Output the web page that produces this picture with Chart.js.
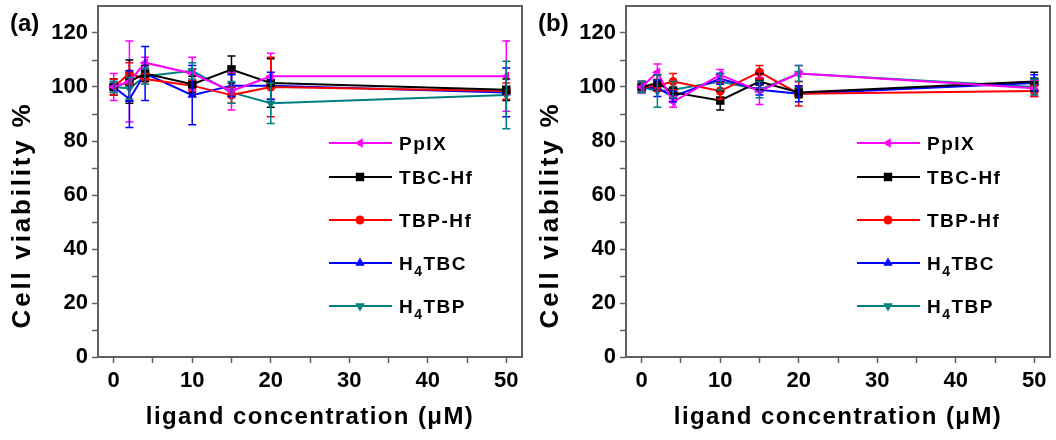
<!DOCTYPE html>
<html>
<head>
<meta charset="utf-8">
<script src="https://cdn.jsdelivr.net/npm/chart.js@4.4.1/dist/chart.umd.min.js"></script>
<style>
  body { margin: 0; background: #fff; width: 1056px; height: 440px; overflow: hidden; display: flex; }
  .panel { position: relative; width: 528px; height: 440px; }
</style>
</head>
<body>
<div class="panel"><canvas id="chartA"></canvas></div>
<div class="panel"><canvas id="chartB"></canvas></div>
<script>
// x values (ligand concentration, uM) shared by every series
const concentrations = [0, 2, 4, 10, 15, 20, 50];
const seriesNames = ['PpIX', 'TBC-Hf', 'TBP-Hf', 'H₄TBC', 'H₄TBP'];
const xTickValues = [0, 5, 10, 15, 20, 25, 30, 35, 40, 45, 50];
const yTickValues = [0, 10, 20, 30, 40, 50, 60, 70, 80, 90, 100, 110, 120];

// panel (a)
const ppixA = [100, 102, 109, 105, 98.5, 104, 104];
const ppixErrA = [5, 15, 2, 6, 7, 8.5, 13];
const tbcHfA = [100, 102, 105, 101, 106.5, 101.5, 99];
const tbcHfErrA = [3, 8, 3, 3, 5, 9, 4];
const tbpHfA = [100, 105, 103, 100.5, 97, 100, 98.5];
const tbpHfErrA = [3, 4, 2, 2, 3, 11, 3];
const h4tbcA = [100, 95.5, 105, 97, 100.5, 100.5, 98];
const h4tbcErrA = [2, 10.5, 10, 11, 4, 5, 9];
const h4tbpA = [100, 99.5, 104, 106, 98, 94, 97];
const h4tbpErrA = [2, 4, 3, 3, 4, 7.5, 12.5];

// panel (b)
const ppixB = [100, 105.5, 94.5, 104.5, 98.5, 105, 99.5];
const ppixErrB = [2, 3, 2, 2, 5, 3, 3];
const tbcHfB = [100, 101.5, 98, 95, 102, 98, 102];
const tbcHfErrB = [2, 3, 2, 3.5, 3, 2, 3.5];
const tbpHfB = [100, 100.5, 102, 98.5, 105.5, 97.5, 98.5];
const tbpHfErrB = [2, 2, 3, 3, 2.5, 4.5, 2];
const h4tbcB = [100, 99.5, 96.5, 103, 99, 97.5, 101.5];
const h4tbcErrB = [2, 3, 2, 2, 2, 3, 3];
const h4tbpB = [100, 98.5, 99, 102, 99, 105, 100];
const h4tbpErrB = [2, 6, 3, 3, 3, 3, 3];

// look of each series, same order as seriesNames
const styles = [
  { color: '#ff00ff', point: 'triangle', rotation: -90, radius: 5.5 },
  { color: '#000000', point: 'rect', rotation: 0, radius: 6 },
  { color: '#ff0000', point: 'circle', rotation: 0, radius: 4.5 },
  { color: '#0000ff', point: 'triangle', rotation: 0, radius: 5.5 },
  { color: '#008080', point: 'triangle', rotation: 180, radius: 5.5 }
];
const axisColor = '#606060';
const fontFamily = '"Liberation Sans", Arial, sans-serif';
const legendRowY = [143, 177, 220, 263, 306];

function drawMarker(ctx, st, x, y) {
  const r = st.radius;
  ctx.beginPath();
  if (st.point === 'circle') {
    ctx.arc(x, y, r, 0, Math.PI * 2);
  } else if (st.point === 'rect') {
    const s = r * Math.SQRT1_2;
    ctx.rect(x - s, y - s, 2 * s, 2 * s);
  } else {
    const a0 = (st.rotation - 90) * Math.PI / 180;
    for (let k = 0; k < 3; k++) {
      const a = a0 + k * 2 * Math.PI / 3;
      const px = x + r * Math.cos(a), py = y + r * Math.sin(a);
      k === 0 ? ctx.moveTo(px, py) : ctx.lineTo(px, py);
    }
    ctx.closePath();
  }
  ctx.fill();
}

// draws text, turning unicode subscript digits into small lowered digits
function drawLabel(ctx, text, x, y, size) {
  let cx = x;
  for (const ch of text) {
    const code = ch.charCodeAt(0);
    if (code >= 0x2080 && code <= 0x2089) {
      ctx.font = 'bold ' + Math.round(size * 0.72) + 'px ' + fontFamily;
      const d = String(code - 0x2080);
      ctx.fillText(d, cx, y + size * 0.32);
      cx += ctx.measureText(d).width;
    } else {
      ctx.font = 'bold ' + size + 'px ' + fontFamily;
      ctx.fillText(ch, cx, y);
      cx += ctx.measureText(ch).width;
    }
  }
}

const decorations = {
  id: 'decorations',
  afterDatasetsDraw(chart, args, opts) {
    const ctx = chart.ctx;
    const xs = chart.scales.x, ys = chart.scales.y;
    ctx.save();
    // error bars
    chart.data.datasets.forEach((ds, di) => {
      ctx.strokeStyle = ds.borderColor;
      ctx.lineWidth = 1.5;
      ds.errors.forEach((e, i) => {
        const px = xs.getPixelForValue(concentrations[i]);
        const top = ys.getPixelForValue(ds.data[i].y + e);
        const bot = ys.getPixelForValue(ds.data[i].y - e);
        ctx.beginPath();
        ctx.moveTo(px, top); ctx.lineTo(px, bot);
        ctx.moveTo(px - 4, top); ctx.lineTo(px + 4, top);
        ctx.moveTo(px - 4, bot); ctx.lineTo(px + 4, bot);
        ctx.stroke();
      });
    });
    ctx.restore();
  },
  afterDraw(chart, args, opts) {
    const ctx = chart.ctx;
    const area = chart.chartArea;
    ctx.save();
    // frame
    ctx.strokeStyle = axisColor;
    ctx.lineWidth = 2;
    ctx.strokeRect(area.left, area.top, area.right - area.left, area.bottom - area.top);

    // legend
    const lx = area.left + 231;
    seriesNames.forEach((name, i) => {
      const st = styles[i];
      const y = legendRowY[i];
      ctx.strokeStyle = st.color;
      ctx.fillStyle = st.color;
      ctx.lineWidth = 2;
      ctx.beginPath();
      ctx.moveTo(lx, y); ctx.lineTo(lx + 63, y);
      ctx.stroke();
      drawMarker(ctx, st, lx + 31, y);
      ctx.fillStyle = '#000';
      ctx.textBaseline = 'alphabetic';
      ctx.textAlign = 'left';
      ctx.letterSpacing = '1.5px';
      drawLabel(ctx, name, lx + 70, y + 7, 19);
    });

    // panel label
    ctx.letterSpacing = '0px';
    ctx.fillStyle = '#000';
    ctx.font = 'bold 24px ' + fontFamily;
    ctx.textAlign = 'left';
    ctx.fillText(opts.panel, 10, 31);

    // axis titles
    ctx.textAlign = 'center';
    ctx.textBaseline = 'middle';
    ctx.letterSpacing = '1.4px';
    ctx.fillText('ligand concentration (μM)', (area.left + area.right) / 2, 417);
    ctx.save();
    ctx.translate(23, 215);
    ctx.rotate(-Math.PI / 2);
    ctx.font = 'bold 26px ' + fontFamily;
    ctx.letterSpacing = '2.8px';
    ctx.fillText('Cell viability %', 0, 0);
    ctx.restore();
    ctx.restore();
  }
};

function makeChart(id, panel, values, errors) {
  const datasets = seriesNames.map((name, i) => ({
    label: name,
    data: concentrations.map((c, k) => ({ x: c, y: values[i][k] })),
    errors: errors[i],
    borderColor: styles[i].color,
    backgroundColor: styles[i].color,
    borderWidth: 2,
    tension: 0,
    pointStyle: styles[i].point,
    pointRotation: styles[i].rotation,
    pointRadius: styles[i].radius,
    pointBorderWidth: 0
  }));
  const tickFont = { family: fontFamily, size: 22, weight: 'bold' };
  // fixed axis sizes so the plot box lands where it is in the figure
  const fitX = s => { s.height = 83; s.paddingLeft = 0; s.paddingRight = 0; };
  const fitY = s => { s.width = 98; s.paddingTop = 0; s.paddingBottom = 0; };
  return new Chart(document.getElementById(id), {
    type: 'line',
    data: { datasets },
    plugins: [decorations],
    options: {
      responsive: true,
      maintainAspectRatio: false,
      animation: false,
      layout: { padding: { top: 5, right: 6, left: 0, bottom: 0 } },
      plugins: {
        legend: { display: false },
        tooltip: { enabled: false },
        decorations: { panel }
      },
      scales: {
        x: {
          type: 'linear',
          min: -2,
          max: 52,
          afterBuildTicks: s => { s.ticks = xTickValues.map(v => ({ value: v })); },
          afterFit: fitX,
          ticks: {
            color: '#000',
            font: tickFont,
            padding: 5,
            maxRotation: 0,
            autoSkip: false,
            callback: v => (v % 10 === 0 ? v : '')
          },
          grid: { drawOnChartArea: false, color: axisColor, tickLength: 6, tickWidth: 1.5 },
          border: { color: axisColor, width: 2 }
        },
        y: {
          min: 0,
          max: 130,
          afterBuildTicks: s => { s.ticks = yTickValues.map(v => ({ value: v })); },
          afterFit: fitY,
          ticks: {
            color: '#000',
            font: tickFont,
            padding: 4,
            autoSkip: false,
            callback: v => (v % 20 === 0 ? v : '')
          },
          grid: { drawOnChartArea: false, color: axisColor, tickLength: 6, tickWidth: 1.5 },
          border: { color: axisColor, width: 2 }
        }
      }
    }
  });
}

makeChart('chartA', '(a)',
  [ppixA, tbcHfA, tbpHfA, h4tbcA, h4tbpA],
  [ppixErrA, tbcHfErrA, tbpHfErrA, h4tbcErrA, h4tbpErrA]);
makeChart('chartB', '(b)',
  [ppixB, tbcHfB, tbpHfB, h4tbcB, h4tbpB],
  [ppixErrB, tbcHfErrB, tbpHfErrB, h4tbcErrB, h4tbpErrB]);
</script>
</body>
</html>
